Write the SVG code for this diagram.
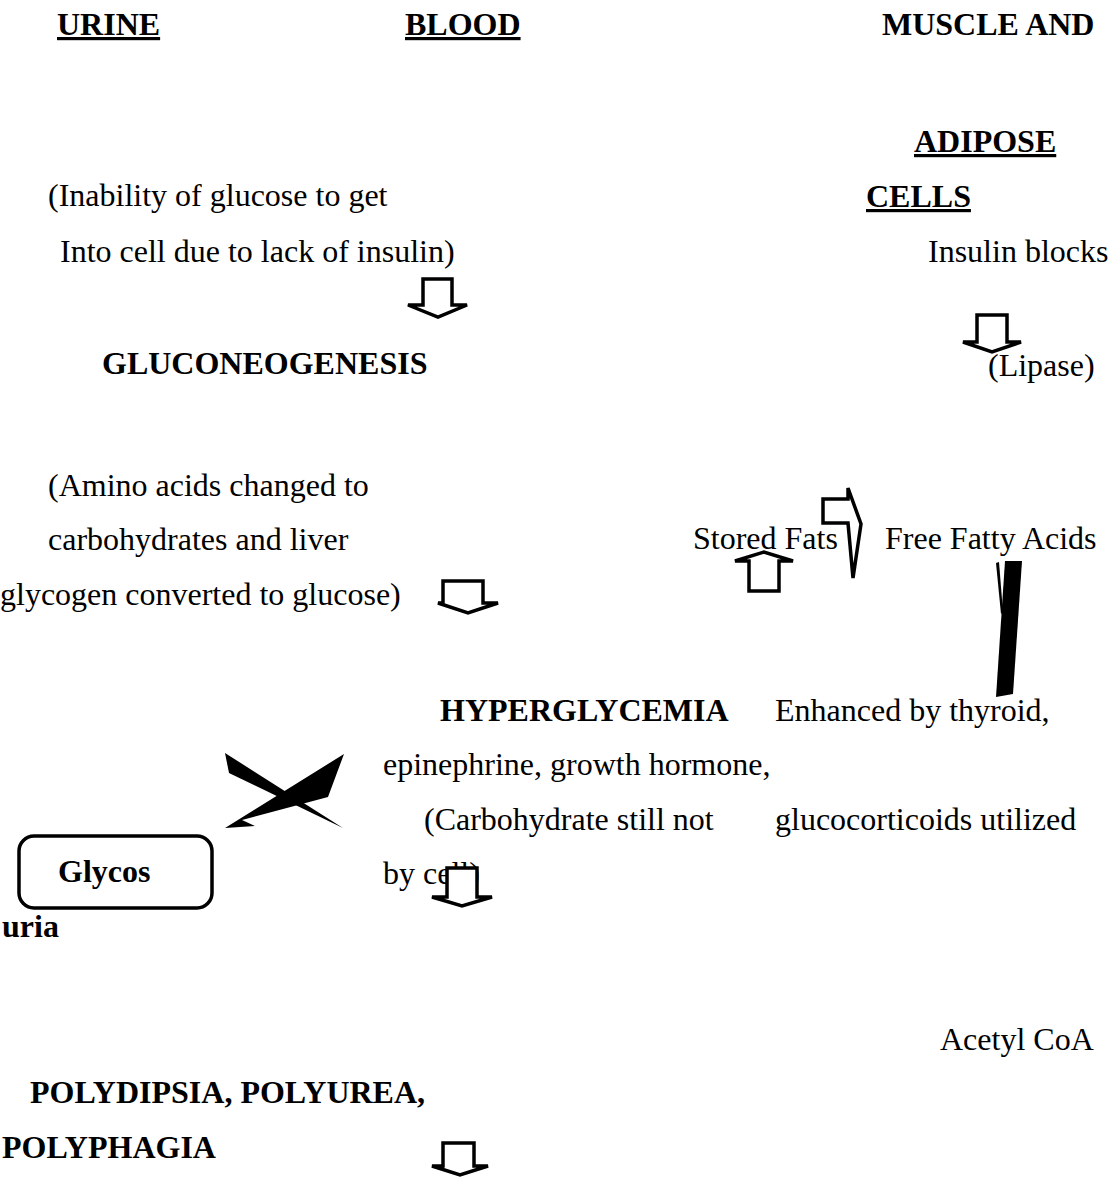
<svg xmlns="http://www.w3.org/2000/svg" width="1119" height="1177" viewBox="0 0 1119 1177">
<style>
text{font-family:"Liberation Serif","Times New Roman",serif;font-size:32px;fill:#000}
.b{font-weight:bold}
.u{text-decoration:underline}
.arrow{fill:#fff;stroke:#000;stroke-width:3.5;stroke-linejoin:miter}
.solid{fill:#000;stroke:none}
.box{fill:#fff;stroke:#000;stroke-width:3.5}
</style>
<rect width="1119" height="1177" fill="#fff"/>
<g id="headers">
<text id="urine" class="b u" x="57" y="35">URINE</text>
<text id="blood" class="b u" x="405" y="35">BLOOD</text>
<text id="muscle" class="b" x="882" y="35">MUSCLE AND</text>
<text id="adipose" class="b u" x="914" y="152">ADIPOSE</text>
<text id="cells" class="b u" x="866" y="207">CELLS</text>
</g>
<g id="node-inability">
<text x="48" y="206">(Inability of glucose to get</text>
<text x="60" y="262">Into cell due to lack of insulin)</text>
</g>
<g id="node-insulin"><text x="928" y="262">Insulin blocks</text></g>
<g id="node-gluconeo"><text class="b" x="102" y="374">GLUCONEOGENESIS</text></g>
<g id="node-lipase"><text x="988" y="376">(Lipase)</text></g>
<g id="node-amino">
<text x="48" y="496">(Amino acids changed to</text>
<text x="48" y="550">carbohydrates and liver</text>
<text x="0" y="605">glycogen converted to glucose)</text>
</g>
<g id="node-stored"><text x="693" y="549">Stored Fats</text></g>
<g id="node-ffa"><text x="885" y="549">Free Fatty Acids</text></g>
<g id="node-hyper">
<text class="b" x="440" y="721">HYPERGLYCEMIA</text>
<text x="383" y="775">epinephrine, growth hormone,</text>
<text x="424" y="830">(Carbohydrate still not</text>
<text x="383" y="884">by cell)</text>
</g>
<g id="node-enhanced">
<text x="775" y="721">Enhanced by thyroid,</text>
<text x="775" y="830">glucocorticoids utilized</text>
</g>
<g id="node-glycos">
<rect class="box" x="19" y="836" width="193" height="72" rx="15"/>
<text class="b" x="58" y="882">Glycos</text>
<text class="b" x="2" y="937">uria</text>
</g>
<g id="node-acetyl"><text x="940" y="1050">Acetyl CoA</text></g>
<g id="node-poly">
<text class="b" x="30" y="1103">POLYDIPSIA, POLYUREA,</text>
<text class="b" x="2" y="1158">POLYPHAGIA</text>
</g>
<g id="connectors">
<path class="arrow" d="M423 305V279H452V305H467L438 317L408 305Z"/>
<path class="arrow" d="M977 342V315H1007V342H1021L992 352L963 342Z"/>
<path class="arrow" d="M443 603V581H483V603H498L468 613L438 603Z"/>
<path class="arrow" d="M749 591V561H735L764 552L793 561H779V591Z"/>
<path class="arrow" d="M823 499H848V488L861 524L853 578L848 523H823Z"/>
<path class="arrow" d="M447 897V868H477V897H492L462 906L432 897Z"/>
<path class="arrow" d="M443 1166V1143H474V1166H488L460 1175L432 1166Z"/>
<polygon class="solid" points="1005,561 1022,561 1013,694 996,697"/>
<polygon class="solid" points="996,563 999,562 1003,612 1001,614"/>
<polygon class="solid" points="225,753 229,773 343,828"/>
<polygon class="solid" points="344,754 328,797 242,820 255,826 225,828"/>
</g>
</svg>
